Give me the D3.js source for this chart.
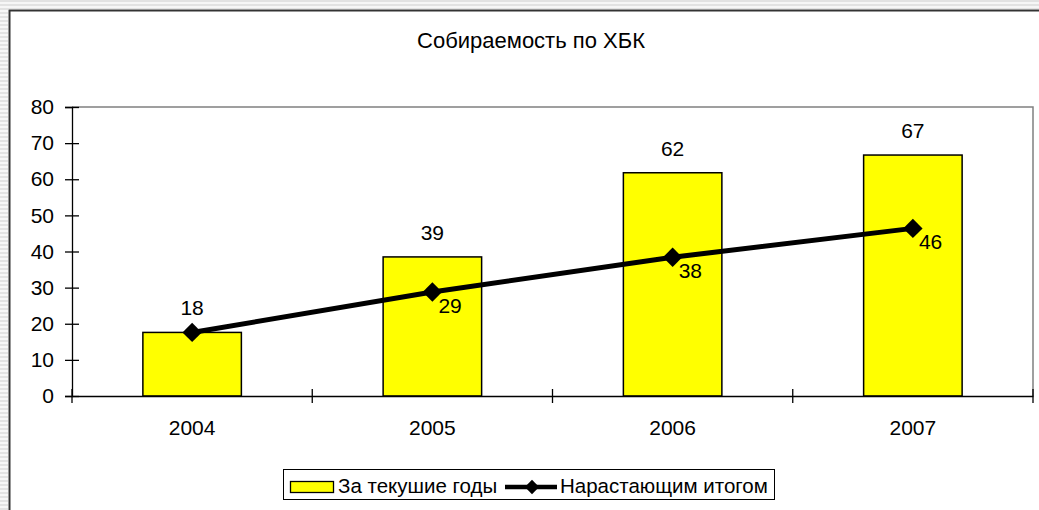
<!DOCTYPE html>
<html>
<head>
<meta charset="utf-8">
<script src="https://cdnjs.cloudflare.com/ajax/libs/d3/7.8.5/d3.min.js"></script>
<style>
  body { margin: 0; background: #fff; }
  svg { display: block; font-family: "Liberation Sans", Arial, sans-serif; }
</style>
</head>
<body>
<script>
// chart data
var years = ["2004", "2005", "2006", "2007"];
var perYear = [17.6, 38.5, 61.8, 66.7];      // За текушие годы
var runningTotal = [17.6, 28.8, 38.4, 46.4]; // Нарастающим итогом
var yTicks = [0, 10, 20, 30, 40, 50, 60, 70, 80];
var title = "Собираемость по ХБК";
var seriesNames = ["За текушие годы", "Нарастающим итогом"];

var w = 1039, h = 510;
var fs = "21px";

var svg = d3.select("body").append("svg")
  .attr("width", w)
  .attr("height", h);

// hatched selection frame outside the chart area
var defs = svg.append("defs");
var pat = defs.append("pattern")
  .attr("id", "hatch")
  .attr("width", 4).attr("height", 4)
  .attr("patternUnits", "userSpaceOnUse");
pat.append("rect").attr("width", 4).attr("height", 4).attr("fill", "#f6f6f6");
pat.append("rect").attr("width", 4).attr("height", 2).attr("fill", "#e2e2e2");

svg.append("rect").attr("x", 0).attr("y", 0).attr("width", w).attr("height", 9).attr("fill", "url(#hatch)");
svg.append("rect").attr("x", 0).attr("y", 0).attr("width", 8).attr("height", h).attr("fill", "url(#hatch)");

// chart frame
svg.append("path")
  .attr("d", "M9.5," + h + "V10.5H" + w)
  .attr("fill", "none")
  .attr("stroke", "#333")
  .attr("stroke-width", 2);

svg.append("text")
  .attr("x", 531)
  .attr("y", 48)
  .attr("text-anchor", "middle")
  .style("font-size", "22px")
  .text(title);

var x = d3.scaleBand()
  .domain(years)
  .range([72, 1033]);

var y = d3.scaleLinear()
  .domain([0, 80])
  .range([396, 107]);

// plot area border (top/right grey)
svg.append("path")
  .attr("d", "M72," + y(80) + "H1033V" + y(0))
  .attr("fill", "none")
  .attr("stroke", "#808080")
  .attr("stroke-width", 1.5);

// bars
svg.selectAll(".bar")
  .data(perYear)
  .enter()
  .append("rect")
  .attr("class", "bar")
  .attr("x", (d, i) => x(years[i]) + x.bandwidth() * 0.295)
  .attr("y", d => y(d))
  .attr("width", x.bandwidth() * 0.41)
  .attr("height", d => y(0) - y(d))
  .attr("fill", "#ffff00")
  .attr("stroke", "#000")
  .attr("stroke-width", 1.5);

// y axis
var yAxis = d3.axisLeft(y).tickValues(yTicks).tickSize(7).tickPadding(11);
var yg = svg.append("g")
  .attr("transform", "translate(72,0)")
  .call(yAxis);
yg.select(".domain").attr("stroke", "#000").attr("stroke-width", 1.3);
yg.selectAll(".tick line").attr("x1", 7).attr("stroke-width", 1.3);
yg.selectAll(".tick text")
  .style("font-size", fs)
  .style("font-family", "'Liberation Sans', Arial, sans-serif")
  .attr("fill", "#000");

// x axis: labels at band centres, tick marks at band edges
var xAxis = d3.axisBottom(x).tickSize(0).tickPadding(24);
var xg = svg.append("g")
  .attr("transform", "translate(0," + y(0) + ")")
  .call(xAxis);
xg.select(".domain").attr("stroke", "#000").attr("stroke-width", 1.3);
xg.selectAll(".tick text")
  .style("font-size", fs)
  .style("font-family", "'Liberation Sans', Arial, sans-serif")
  .attr("fill", "#000");

var edges = years.map(d => x(d)).concat([x.range()[1]]);
svg.selectAll(".xtick")
  .data(edges)
  .enter()
  .append("line")
  .attr("class", "xtick")
  .attr("x1", d => d).attr("x2", d => d)
  .attr("y1", y(0) - 7).attr("y2", y(0) + 7)
  .attr("stroke", "#000")
  .attr("stroke-width", 1.3);

// line series
var cx = (d, i) => x(years[i]) + x.bandwidth() / 2;
var line = d3.line()
  .x(cx)
  .y(d => y(d));

svg.append("path")
  .datum(runningTotal)
  .attr("d", line)
  .attr("fill", "none")
  .attr("stroke", "#000")
  .attr("stroke-width", 5);

var diamond = d3.symbol().type(d3.symbolDiamond2).size(240);
svg.selectAll(".marker")
  .data(runningTotal)
  .enter()
  .append("path")
  .attr("class", "marker")
  .attr("d", diamond)
  .attr("transform", (d, i) => "translate(" + cx(d, i) + "," + y(d) + ")")
  .attr("fill", "#000");

// bar labels
svg.selectAll(".barlabel")
  .data(perYear)
  .enter()
  .append("text")
  .attr("class", "barlabel")
  .attr("x", cx)
  .attr("y", d => y(d) - 17)
  .attr("text-anchor", "middle")
  .style("font-size", fs)
  .text(d => d3.format(".0f")(d));

// line labels (first one hidden behind the bar label)
svg.selectAll(".linelabel")
  .data(runningTotal)
  .enter()
  .filter((d, i) => i > 0)
  .append("text")
  .attr("class", "linelabel")
  .attr("x", (d, i) => cx(d, i + 1) + 6)
  .attr("y", d => y(d) + 21)
  .style("font-size", fs)
  .text(d => d3.format(".0f")(d));

// legend
var lg = svg.append("g");
lg.append("rect")
  .attr("x", 283.5).attr("y", 469.5)
  .attr("width", 491).attr("height", 30)
  .attr("fill", "#fff")
  .attr("stroke", "#000");
lg.append("rect")
  .attr("x", 290.5).attr("y", 481.5)
  .attr("width", 43).attr("height", 11)
  .attr("fill", "#ffff00")
  .attr("stroke", "#000")
  .attr("stroke-width", 1.3);
lg.append("text")
  .attr("x", 338).attr("y", 493)
  .style("font-size", "20.5px")
  .text(seriesNames[0]);
lg.append("line")
  .attr("x1", 505).attr("x2", 557)
  .attr("y1", 487).attr("y2", 487)
  .attr("stroke", "#000")
  .attr("stroke-width", 4.5);
lg.append("path")
  .attr("d", d3.symbol().type(d3.symbolDiamond2).size(130))
  .attr("transform", "translate(532,487)")
  .attr("fill", "#000");
lg.append("text")
  .attr("x", 560).attr("y", 493)
  .style("font-size", "20.5px")
  .text(seriesNames[1]);
</script>
</body>
</html>
